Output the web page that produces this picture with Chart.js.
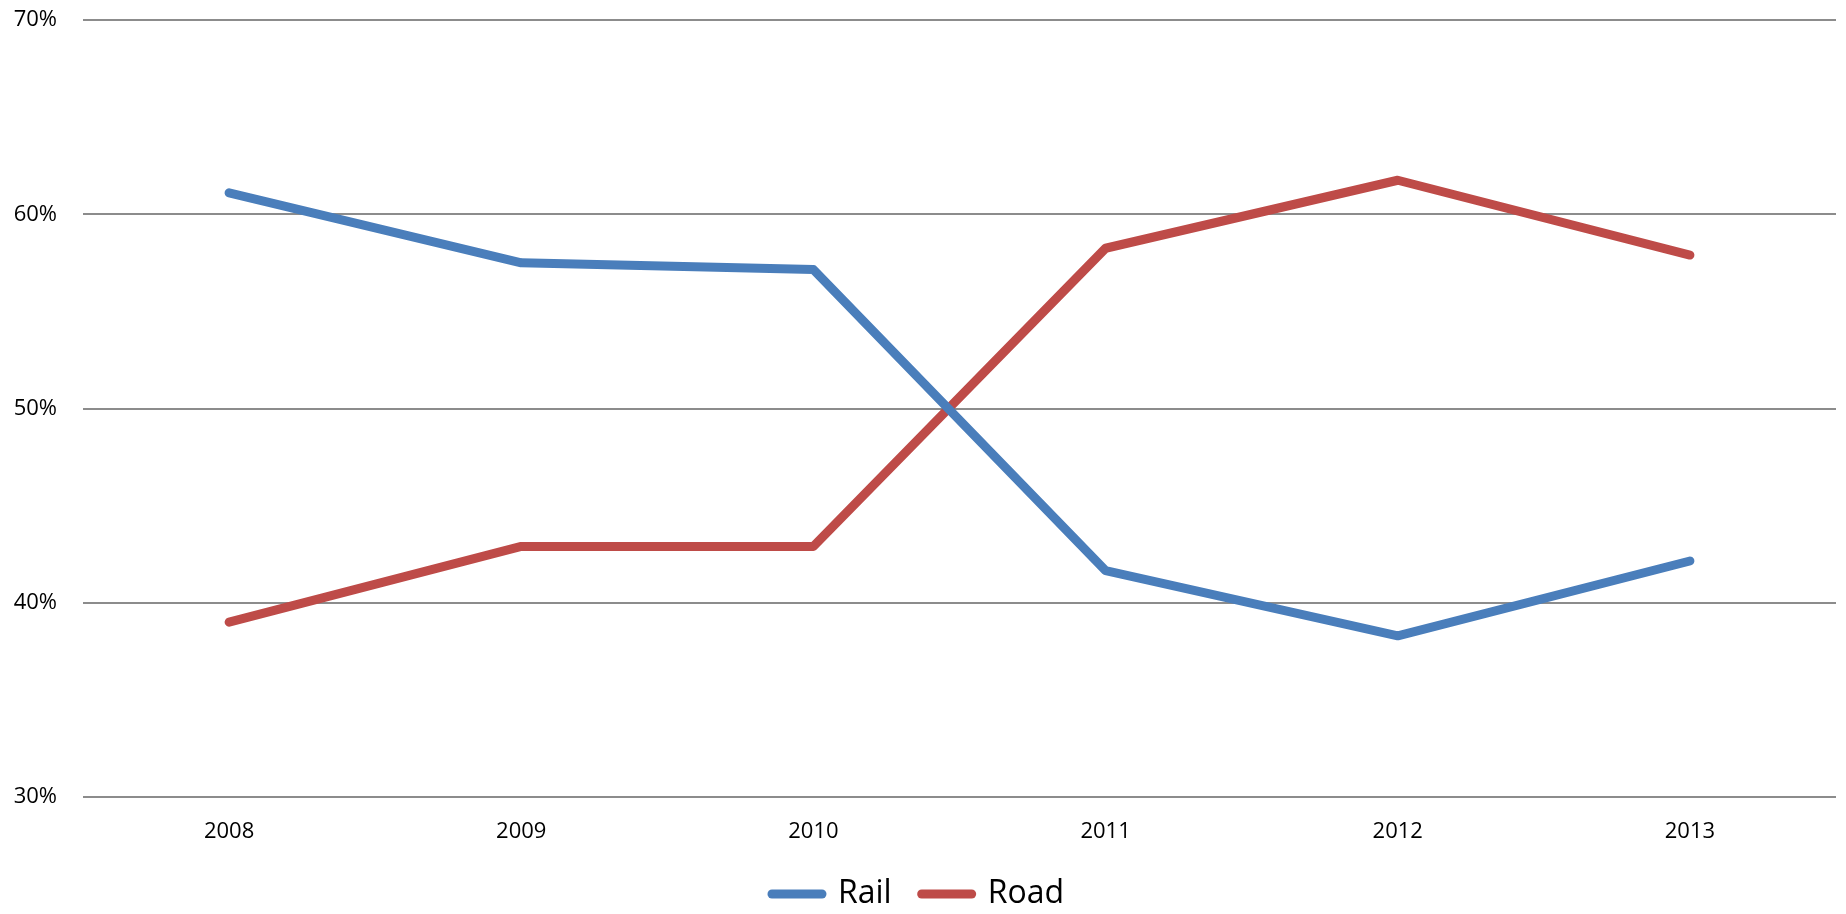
<!DOCTYPE html>
<html>
<head>
<meta charset="utf-8">
<script src="https://cdn.jsdelivr.net/npm/chart.js@4"></script>
<style>
  html, body { margin: 0; padding: 0; background: #fff; }
  #wrap { width: 1846px; height: 914px; }
</style>
</head>
<body>
<div id="wrap"><canvas id="chart-1"></canvas></div>
<script>
const years = ['2008', '2009', '2010', '2011', '2012', '2013'];
const rail = [61.1, 57.5, 57.15, 41.65, 38.3, 42.15];
const road = [39.0, 42.9, 42.9, 58.25, 61.75, 57.9];
const yTicks = [30, 40, 50, 60, 70];

const ctx = document.getElementById('chart-1');

// legend box height fixed so the plot keeps its place
const legendHeight = {
  id: 'legendHeight',
  beforeInit(chart) {
    const legend = chart.legend;
    if (!legend) return;
    const fit = legend.fit;
    legend.fit = function () {
      fit.call(this);
      this.height = 66;
    };
  }
};

new Chart(ctx, {
  type: 'line',
  data: {
    labels: years,
    datasets: [{
      label: 'Rail',
      data: rail,
      borderColor: '#4A7EBB',
      backgroundColor: '#4A7EBB',
      borderWidth: 9,
      borderCapStyle: 'round',
      borderJoinStyle: 'round',
      pointRadius: 0,
      pointStyle: 'line'
    }, {
      label: 'Road',
      data: road,
      borderColor: '#BE4B48',
      backgroundColor: '#BE4B48',
      borderWidth: 9,
      borderCapStyle: 'round',
      borderJoinStyle: 'round',
      pointRadius: 0,
      pointStyle: 'line'
    }]
  },
  plugins: [legendHeight],
  options: {
    responsive: true,
    maintainAspectRatio: false,
    animation: false,
    layout: { padding: { top: 20, right: 10, left: 0, bottom: 0 } },
    plugins: {
      tooltip: { enabled: false },
      legend: {
        position: 'bottom',
        labels: {
          usePointStyle: true,
          pointStyleWidth: 50,
          padding: 30,
          color: '#000',
          font: { family: 'Open Sans', size: 32 },
          generateLabels: (chart) => Chart.defaults.plugins.legend.labels.generateLabels(chart)
            .map(l => Object.assign(l, { lineCap: 'round', lineWidth: 9 }))
        }
      }
    },
    scales: {
      x: {
        offset: true,
        afterFit: (scale) => { scale.height = 51; },
        grid: { display: false, drawTicks: false },
        border: { display: false },
        ticks: { color: '#000', padding: 22, font: { family: 'Open Sans', size: 22 } }
      },
      y: {
        min: yTicks[0],
        max: yTicks[yTicks.length - 1],
        afterBuildTicks: (scale) => { scale.ticks = yTicks.map(v => ({ value: v })); },
        afterFit: (scale) => { scale.width = 83; scale.paddingTop = 0; scale.paddingBottom = 0; },
        grid: { color: '#8C8C8C', lineWidth: 2, drawTicks: false },
        border: { display: false },
        ticks: {
          color: '#000',
          padding: 26,
          font: { family: 'Open Sans', size: 22 },
          callback: (v) => v + '%'
        }
      }
    }
  }
});
</script>
</body>
</html>
